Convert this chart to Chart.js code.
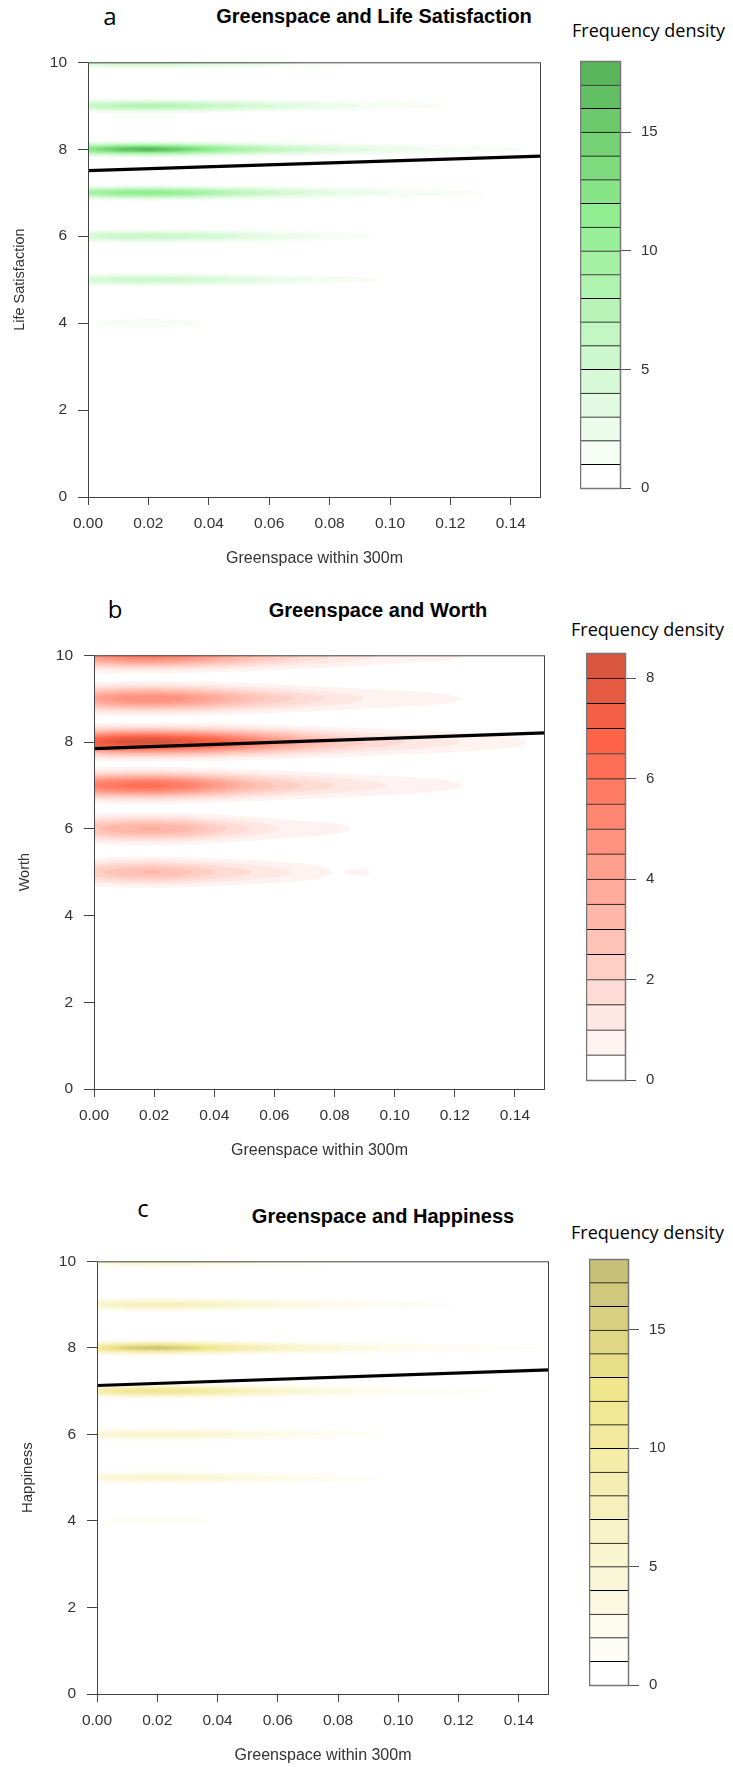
<!DOCTYPE html>
<html>
<head>
<meta charset="utf-8">
<script src="https://cdn.jsdelivr.net/npm/chart.js@4.4.0/dist/chart.umd.min.js"></script>
<style>
  html, body { margin: 0; padding: 0; background: #fff; }
  body { width: 733px; height: 1767px; position: relative; overflow: hidden; }
  canvas { position: absolute; }
  .txt { position: absolute; white-space: nowrap; color: #000; line-height: 1; }
  .mid { transform: translate(-50%, -50%); }
  .lft { transform: translate(0, -50%); }
  .letter { font-family: 'Open Sans', sans-serif; font-size: 24px; }
  .title { font-family: 'Liberation Sans', Arial, sans-serif; font-weight: bold; font-size: 20px; }
  .keyhead { font-family: 'Open Sans', sans-serif; font-size: 18px; }
</style>
</head>
<body>

<div class="txt mid letter" style="left:110px; top:16px;">a</div>
<div class="txt mid title" style="left:374px; top:16px;">Greenspace and Life Satisfaction</div>
<div class="txt lft keyhead" style="left:572px; top:30px;">Frequency density</div>
<canvas id="plotA" width="551" height="530" style="left:0; top:42px;"></canvas>
<canvas id="keyA" width="100" height="465" style="left:580px; top:42px;"></canvas>

<div class="txt mid letter" style="left:115px; top:609px;">b</div>
<div class="txt mid title" style="left:378px; top:610px;">Greenspace and Worth</div>
<div class="txt lft keyhead" style="left:571px; top:629px;">Frequency density</div>
<canvas id="plotB" width="555" height="529" style="left:0; top:635px;"></canvas>
<canvas id="keyB" width="100" height="465" style="left:586px; top:634px;"></canvas>

<div class="txt mid letter" style="left:143px; top:1208px;">c</div>
<div class="txt mid title" style="left:383px; top:1216px;">Greenspace and Happiness</div>
<div class="txt lft keyhead" style="left:571px; top:1232px;">Frequency density</div>
<canvas id="plotC" width="559" height="528" style="left:0; top:1241px;"></canvas>
<canvas id="keyC" width="100" height="464" style="left:589px; top:1240px;"></canvas>

<script>
// ---- data -------------------------------------------------------------
// greenspace share (x) at which each density row is given
const xGrid = [0, 0.01, 0.02, 0.03, 0.04, 0.05, 0.06, 0.07, 0.08, 0.09, 0.10, 0.11, 0.12, 0.13, 0.14, 0.15];
// rating levels (rows)
const scoreLevels = [4, 5, 6, 7, 8, 9, 10];
const xTicks = [0, 0.02, 0.04, 0.06, 0.08, 0.10, 0.12, 0.14];
const yTicks = [0, 2, 4, 6, 8, 10];

// Life satisfaction: frequency density along greenspace, one row per rating
const lifeSat4  = [0.8, 1.6, 1.9, 1.5, 0.8, 0.4, 0.2, 0.1, 0, 0, 0, 0, 0, 0, 0, 0];
const lifeSat5  = [4.4, 5.3, 5.6, 5.2, 4.5, 3.7, 3.0, 2.3, 1.7, 1.3, 0.85, 0.5, 0.4, 0.3, 0.2, 0.1];
const lifeSat6  = [4.8, 5.8, 6.1, 5.7, 4.9, 4.0, 3.1, 2.4, 1.8, 1.15, 0.8, 0.5, 0.4, 0.3, 0.2, 0.1];
const lifeSat7  = [9.0, 11.2, 11.8, 10.8, 9.0, 7.0, 5.5, 4.2, 3.2, 2.5, 2.0, 1.6, 1.3, 1.05, 0.7, 0.5];
const lifeSat8  = [12.0, 16.0, 17.6, 15.2, 11.8, 9.0, 7.0, 5.5, 4.3, 3.4, 2.7, 2.1, 1.7, 1.4, 1.15, 0.9];
const lifeSat9  = [5.8, 7.4, 8.0, 7.3, 6.3, 5.2, 4.2, 3.3, 2.6, 2.0, 1.6, 1.3, 0.95, 0.6, 0.4, 0.3];
const lifeSat10 = [4.5, 5.4, 5.6, 5.0, 4.2, 3.4, 2.6, 2.0, 1.4, 0.95, 0.7, 0.5, 0.4, 0.3, 0.2, 0.1];
const lifeSatFit = [7.51, 7.84];          // fitted line at greenspace 0 and 0.15
const lifeSatKeyTicks = [0, 5, 10, 15];

// Worth
const worth4  = [0.3, 0.4, 0.4, 0.3, 0.2, 0.1, 0, 0, 0, 0, 0, 0, 0, 0, 0, 0];
const worth5  = [2.3, 2.9, 3.1, 2.7, 2.0, 1.6, 1.2, 0.85, 0.47, 0.56, 0.2, 0.1, 0, 0, 0, 0];
const worth6  = [2.9, 3.4, 3.6, 3.2, 2.3, 1.6, 1.05, 0.8, 0.62, 0.4, 0.2, 0.1, 0, 0, 0, 0];
const worth7  = [5.5, 6.1, 6.3, 5.6, 4.5, 3.3, 2.5, 1.95, 1.5, 1.15, 0.95, 0.75, 0.54, 0.4, 0.3, 0.2];
const worth8  = [7.2, 8.3, 8.4, 7.9, 7.0, 5.8, 4.6, 3.4, 2.6, 2.0, 1.6, 1.3, 1.05, 0.8, 0.6, 0.35];
const worth9  = [4.0, 4.8, 5.0, 4.6, 3.8, 3.0, 2.3, 1.8, 1.35, 1.0, 0.85, 0.7, 0.53, 0.4, 0.3, 0.2];
const worth10 = [4.6, 5.4, 5.6, 5.1, 4.2, 3.3, 2.5, 1.9, 1.45, 1.1, 0.85, 0.68, 0.54, 0.4, 0.3, 0.2];
const worthFit = [7.85, 8.21];
const worthKeyTicks = [0, 2, 4, 6, 8];

// Happiness
const happy4  = [0.8, 1.6, 1.9, 1.5, 0.8, 0.4, 0.2, 0.1, 0, 0, 0, 0, 0, 0, 0, 0];
const happy5  = [4.0, 5.0, 5.4, 5.1, 4.4, 3.6, 2.9, 2.3, 1.7, 1.3, 0.85, 0.5, 0.4, 0.3, 0.2, 0.1];
const happy6  = [4.2, 5.3, 5.6, 5.3, 4.6, 3.8, 3.0, 2.3, 1.7, 1.15, 0.8, 0.5, 0.4, 0.3, 0.2, 0.1];
const happy7  = [8.5, 11.5, 12.5, 11.5, 9.5, 7.5, 5.8, 4.4, 3.4, 2.6, 2.0, 1.6, 1.3, 1.05, 0.7, 0.5];
const happy8  = [11.0, 15.5, 17.2, 15.0, 11.5, 8.8, 6.8, 5.3, 4.2, 3.3, 2.6, 2.1, 1.7, 1.4, 1.15, 0.9];
const happy9  = [5.5, 7.2, 7.8, 7.2, 6.2, 5.1, 4.1, 3.3, 2.6, 2.0, 1.6, 1.25, 0.95, 0.6, 0.4, 0.3];
const happy10 = [4.0, 5.2, 5.5, 5.0, 4.2, 3.3, 2.5, 1.9, 1.3, 0.9, 0.7, 0.5, 0.4, 0.3, 0.2, 0.1];
const happyFit = [7.13, 7.49];
const happyKeyTicks = [0, 5, 10, 15];

// ---- drawing set-up ---------------------------------------------------
const FONT = "'Liberation Sans', Arial, sans-serif";

const panels = [
  {
    plot: 'plotA', key: 'keyA',
    rows: [lifeSat4, lifeSat5, lifeSat6, lifeSat7, lifeSat8, lifeSat9, lifeSat10],
    fit: lifeSatFit, keyTicks: lifeSatKeyTicks, keyStep: 1, keyBins: 18,
    yTitle: 'Life Satisfaction',
    sigma: 0.085,
    stops: [[0, [255, 255, 255]], [11, [144, 238, 144]], [17, [90, 182, 90]]],
    plotLeft: 88, xAxisH: 75, yTitlePad: 11, yTitleSize: 14.5, keyBar: 41
  },
  {
    plot: 'plotB', key: 'keyB',
    rows: [worth4, worth5, worth6, worth7, worth8, worth9, worth10],
    fit: worthFit, keyTicks: worthKeyTicks, keyStep: 0.5, keyBins: 17,
    yTitle: 'Worth',
    sigma: 0.19,
    stops: [[0, [255, 255, 255]], [13, [255, 99, 71]], [16, [218, 86, 62]]],
    plotLeft: 94, xAxisH: 75, yTitlePad: 16, yTitleSize: 14.5, keyBar: 40
  },
  {
    plot: 'plotC', key: 'keyC',
    rows: [happy4, happy5, happy6, happy7, happy8, happy9, happy10],
    fit: happyFit, keyTicks: happyKeyTicks, keyStep: 1, keyBins: 18,
    yTitle: 'Happiness',
    sigma: 0.085,
    stops: [[0, [255, 255, 255]], [12, [240, 230, 140]], [17, [200, 192, 120]]],
    plotLeft: 97, xAxisH: 75, yTitlePad: 19, yTitleSize: 15, keyBar: 40
  }
];

// colour for every key bin, blended between the given stops
function ramp(stops, bins) {
  const out = [];
  for (let k = 0; k < bins; k++) {
    let a = stops[0], b = stops[stops.length - 1];
    for (let s = 0; s < stops.length - 1; s++) {
      if (k >= stops[s][0] && k <= stops[s + 1][0]) { a = stops[s]; b = stops[s + 1]; break; }
    }
    const f = b[0] === a[0] ? 0 : (k - a[0]) / (b[0] - a[0]);
    const c = a[1].map((v, i) => Math.round(v + (b[1][i] - v) * f));
    out.push('rgb(' + c.join(',') + ')');
  }
  return out;
}

// density of a row at greenspace x (straight between grid nodes)
function densityAt(row, x) {
  const n = xGrid.length;
  if (x <= xGrid[0]) return row[0];
  if (x >= xGrid[n - 1]) return row[n - 1];
  let i = 0;
  while (i < n - 2 && x > xGrid[i + 1]) i++;
  const f = (x - xGrid[i]) / (xGrid[i + 1] - xGrid[i]);
  return row[i] + (row[i + 1] - row[i]) * f;
}

// x-runs where a row's density reaches level t
function contourRuns(row, t) {
  const runs = [];
  const x0 = xGrid[0], x1 = xGrid[xGrid.length - 1], N = 300;
  let prevX = x0, prevD = densityAt(row, x0);
  let cur = prevD >= t ? [x0] : null;
  for (let j = 1; j <= N; j++) {
    const x = x0 + (x1 - x0) * j / N;
    const d = densityAt(row, x);
    if (d >= t && prevD < t) {
      const xc = prevX + (x - prevX) * (t - prevD) / (d - prevD);
      cur = [xc, x];
    } else if (d < t && prevD >= t) {
      const xc = prevX + (x - prevX) * (prevD - t) / (prevD - d);
      cur.push(xc);
      runs.push(cur);
      cur = null;
    } else if (d >= t) {
      cur.push(x);
    }
    prevX = x; prevD = d;
  }
  if (cur) runs.push(cur);
  return runs;
}

// outline around the chart area
function framePlugin(color, width) {
  return {
    id: 'frame',
    afterDraw(chart) {
      const a = chart.chartArea, ctx = chart.ctx;
      ctx.save();
      ctx.strokeStyle = color;
      ctx.lineWidth = width;
      ctx.strokeRect(a.left + 0.5, a.top + 0.5, a.right - a.left - 1, a.bottom - a.top);
      ctx.restore();
    }
  };
}

function buildPlot(p) {
  const colors = ramp(p.stops, p.keyBins);
  const datasets = [];
  p.rows.forEach((row, li) => {
    const level = scoreLevels[li];
    for (let k = 1; k < p.keyBins; k++) {
      const t = k * p.keyStep;
      contourRuns(row, t).forEach(xs => {
        const off = xs.map(x => p.sigma * Math.sqrt(2 * Math.log(Math.max(densityAt(row, x) / t, 1))));
        datasets.push({
          data: xs.map((x, i) => ({ x: x, y: level + off[i] })),
          fill: '+1', backgroundColor: colors[k], borderWidth: 0,
          borderColor: 'rgba(0,0,0,0)', pointRadius: 0, order: 1000 - k
        });
        datasets.push({
          data: xs.map((x, i) => ({ x: x, y: level - off[i] })),
          fill: false, borderWidth: 0, borderColor: 'rgba(0,0,0,0)',
          pointRadius: 0, order: 1000 - k
        });
      });
    }
  });
  // fitted line
  datasets.push({
    data: [{ x: xGrid[0], y: p.fit[0] }, { x: xGrid[xGrid.length - 1], y: p.fit[1] }],
    fill: false, borderColor: '#000', borderWidth: 3.2, pointRadius: 0, order: 0
  });

  const tickFont = { family: FONT, size: 15.5 };
  new Chart(document.getElementById(p.plot), {
    type: 'line',
    data: { datasets },
    options: {
      responsive: false, animation: false, events: [],
      layout: { padding: { top: 10, right: 10, left: 0, bottom: 0 } },
      elements: { line: { tension: 0 }, point: { radius: 0 } },
      plugins: { legend: { display: false }, tooltip: { enabled: false }, filler: { propagate: false } },
      scales: {
        x: {
          type: 'linear', min: 0, max: 0.15,
          afterBuildTicks: s => { s.ticks = xTicks.map(v => ({ value: v })); },
          afterFit: s => { s.height = p.xAxisH; },
          ticks: { callback: v => Number(v).toFixed(2), font: tickFont, color: '#333', padding: 9, maxRotation: 0, autoSkip: false },
          grid: { drawOnChartArea: false, drawTicks: true, tickLength: 8, color: '#444' },
          border: { display: false },
          title: { display: true, text: 'Greenspace within 300m', font: { family: FONT, size: 16 }, color: '#333', padding: { top: 0, bottom: 4 } }
        },
        y: {
          type: 'linear', min: 0, max: 10,
          afterBuildTicks: s => { s.ticks = yTicks.map(v => ({ value: v })); },
          afterFit: s => { s.width = p.plotLeft; },
          ticks: { font: tickFont, color: '#333', padding: 11, autoSkip: false },
          grid: { drawOnChartArea: false, drawTicks: true, tickLength: 10, color: '#444' },
          border: { display: false },
          title: { display: true, text: p.yTitle, font: { family: FONT, size: p.yTitleSize }, color: '#333', padding: { top: p.yTitlePad, bottom: 0 } }
        }
      }
    },
    plugins: [framePlugin('#444', 1)]
  });

  // colour key
  const keyCanvas = document.getElementById(p.key);
  new Chart(keyCanvas, {
    type: 'bar',
    data: {
      labels: [''],
      datasets: colors.map((c, k) => ({
        data: [[k * p.keyStep, (k + 1) * p.keyStep]],
        backgroundColor: c, borderColor: '#000',
        borderWidth: { top: 1, bottom: 0, left: 0, right: 0 },
        borderSkipped: false, grouped: false,
        barPercentage: 1, categoryPercentage: 1
      }))
    },
    options: {
      responsive: false, animation: false, events: [],
      layout: { padding: { top: 10, bottom: 10, left: 0, right: 0 } },
      plugins: { legend: { display: false }, tooltip: { enabled: false } },
      scales: {
        x: { display: false },
        y: {
          position: 'right', min: 0, max: p.keyBins * p.keyStep,
          afterBuildTicks: s => { s.ticks = p.keyTicks.map(v => ({ value: v })); },
          afterFit: s => { s.width = keyCanvas.width - p.keyBar; },
          ticks: { font: { family: FONT, size: 15 }, color: '#333', padding: 10, autoSkip: false },
          grid: { drawOnChartArea: false, drawTicks: true, tickLength: 10, color: '#555' },
          border: { display: false }
        }
      }
    },
    plugins: [framePlugin('#777', 1.5)]
  });
}

panels.forEach(buildPlot);
</script>
</body>
</html>
